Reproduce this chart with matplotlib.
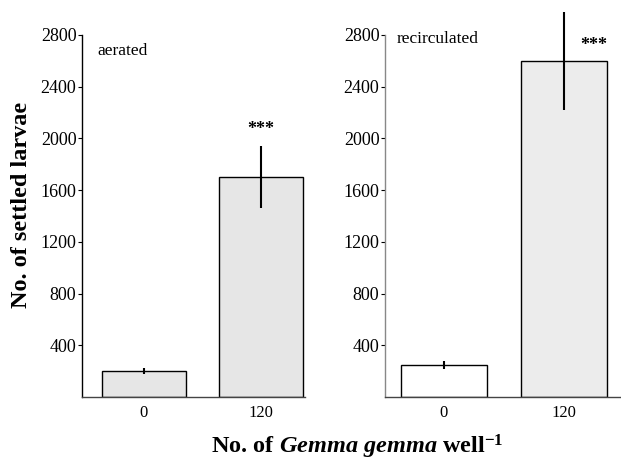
import matplotlib
matplotlib.use("Agg")
import matplotlib.pyplot as plt
import numpy as np

# data
categories = ["0", "120"]
aerated_mean = [200, 1700]
aerated_err = [25, 240]
recirc_mean = [250, 2600]
recirc_err = [30, 380]
yticks = [400, 800, 1200, 1600, 2000, 2400, 2800]

plt.rcParams["font.family"] = ["Liberation Serif", "DejaVu Serif"]
plt.rcParams["mathtext.fontset"] = "custom"
plt.rcParams["mathtext.rm"] = "Liberation Serif:bold"
plt.rcParams["mathtext.it"] = "Liberation Serif:bold:italic"
plt.rcParams["mathtext.bf"] = "Liberation Serif:bold"

fig = plt.figure(figsize=(6.21, 4.66), dpi=100)
ax1 = fig.add_axes([0.132, 0.148, 0.359, 0.777])
ax2 = fig.add_axes([0.620, 0.148, 0.380, 0.777])

x = np.arange(len(categories))


def draw_panel(ax, means, errs, colors, xlim, spine_color):
    ax.bar(x, means, width=0.72, color=colors, edgecolor="black", linewidth=1.0, zorder=2)
    ax.errorbar(x, means, yerr=errs, fmt="none", ecolor="black", elinewidth=1.5,
                capsize=0, zorder=3, clip_on=False)
    ax.set_xlim(*xlim)
    ax.set_ylim(0, 2800)
    ax.set_yticks(yticks)
    ax.set_xticks(x)
    ax.set_xticklabels(categories)
    ax.tick_params(axis="x", length=0, pad=6, labelsize=12)
    ax.tick_params(axis="y", direction="out", length=3, width=0.8, pad=1, labelsize=13)
    for s in ["top", "right"]:
        ax.spines[s].set_visible(False)
    ax.spines["left"].set_color(spine_color)
    ax.spines["left"].set_linewidth(1.0)
    ax.spines["bottom"].set_linewidth(1.0)
    ax.spines["bottom"].set_color("#444444")


draw_panel(ax1, aerated_mean, aerated_err, ["#e6e6e6", "#e6e6e6"], (-0.53, 1.376), "black")
draw_panel(ax2, recirc_mean, recirc_err, ["white", "#ececec"], (-0.49, 1.475), "#888888")

ax1.text(0.07, 0.955, "aerated", transform=ax1.transAxes, fontsize=12.5, va="center", ha="left")
ax2.text(0.05, 0.99, "recirculated", transform=ax2.transAxes, fontsize=12.5, va="center", ha="left")

ax1.text(1, aerated_mean[1] + aerated_err[1] + 130, "***", ha="center", va="center",
         fontsize=13, fontweight="bold")
ax2.text(1.25, 2720, "***", ha="center", va="center", fontsize=13, fontweight="bold")

fig.text(0.035, 0.56, "No. of settled larvae", rotation=90, ha="center", va="center",
         fontsize=17.5, fontweight="bold")
fig.text(0.575, 0.04, r"No. of $\mathit{Gemma\ gemma}$ well$^{\mathbf{-1}}$",
         ha="center", va="center", fontsize=17.5, fontweight="bold")

fig.savefig("out.png", dpi=100)
